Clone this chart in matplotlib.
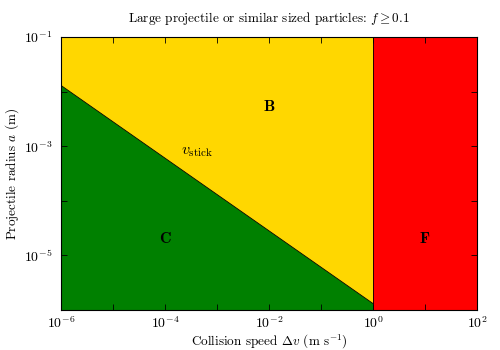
import numpy as np
import matplotlib.pyplot as plt
import matplotlib.ticker as ticker

plt.rcParams.update({
    'font.family': 'serif',
    'font.serif': ['cmr10'],
    'mathtext.fontset': 'cm',
    'axes.formatter.use_mathtext': True,
    'font.size': 9.5,
    'axes.unicode_minus': False,
})

# regime boundaries
v_min, v_max = 1e-6, 1e2
a_min, a_max = 1e-6, 1e-1
v_frag = 1.0                      # sticking / fragmentation boundary
v_stick = np.array([1e-6, 1.0])   # v_stick line, a ~ dv^(-2/3)
a_stick = np.array([1.3e-2, 1.3e-6])

labels = ['B', 'C', 'F']
label_v = [1e-2, 1e-4, 1e1]
label_a = [5.4e-3, 2e-5, 2e-5]

fig = plt.figure(figsize=(5, 3.5), dpi=100)
ax = fig.add_axes([0.122, 0.115, 0.832, 0.779])

# bouncing (B) above the line, coagulation (C) below, fragmentation (F) right
ax.fill_between([v_min, v_frag], a_min, a_max, color='gold', lw=0)
ax.fill_between(v_stick, a_min, a_stick, color='green', lw=0)
ax.fill_between([v_frag, v_max], a_min, a_max, color='red', lw=0)
ax.plot(v_stick, a_stick, color='k', lw=0.6)
ax.axvline(v_frag, color='k', lw=0.6)

for lab, v, a in zip(labels, label_v, label_a):
    ax.text(v, a, r'$\mathbf{%s}$' % lab, ha='center', va='center', fontsize=11.5)
ax.text(4.2e-4, 7.8e-4, r'$v_{\rm stick}$', ha='center', va='center', fontsize=11.5)

ax.set_xscale('log')
ax.set_yscale('log')
ax.set_xlim(v_min, v_max)
ax.set_ylim(a_min, a_max)

ax.xaxis.set_major_locator(ticker.LogLocator(base=100))
ax.xaxis.set_minor_locator(ticker.LogLocator(base=10, subs=[1.0], numticks=20))
ax.yaxis.set_major_locator(ticker.FixedLocator([1e-5, 1e-3, 1e-1]))
ax.yaxis.set_minor_locator(ticker.FixedLocator([1e-6, 1e-4, 1e-2]))
ax.yaxis.set_minor_formatter(ticker.NullFormatter())
ax.xaxis.set_minor_formatter(ticker.NullFormatter())
ax.tick_params(which='both', direction='in', top=True, right=True,
               length=4, width=0.6, labelsize=10)
ax.tick_params(axis='x', pad=4)
ax.tick_params(axis='y', pad=6)

ax.set_xlabel(r'Collision speed $\Delta v$ (m s$^{-1}$)', labelpad=1)
ax.set_ylabel(r'Projectile radius $a$ (m)', labelpad=2)
ax.set_title(r'Large projectile or similar sized particles: $f \geq 0.1$', fontsize=9.5, pad=11)

fig.savefig('out.png', dpi=100)
